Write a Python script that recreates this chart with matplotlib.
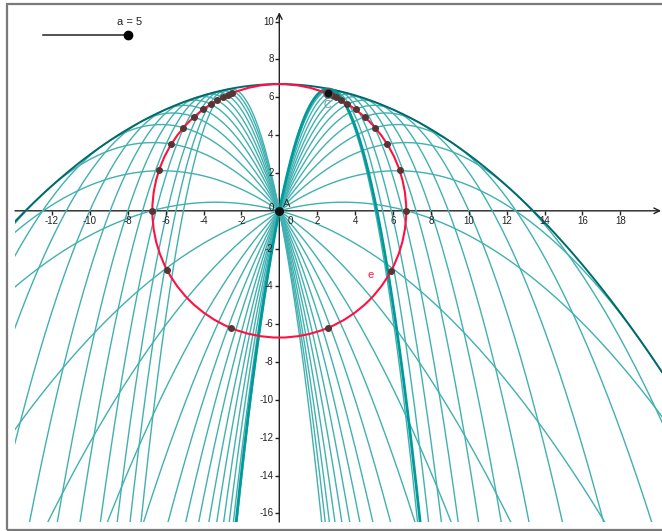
import numpy as np
import matplotlib.pyplot as plt
from matplotlib.patches import Circle, Rectangle

plt.rcParams['font.family'] = ['Liberation Sans', 'DejaVu Sans']
plt.rcParams['axes.unicode_minus'] = False

# maximum height of the throw (radius of the circle e)
h = 6.7
# slider value a, slope of the highlighted trajectory c
a = 5
# launch slopes of the trajectories (each drawn to the right and mirrored to the left)
slopes = [0.27, 0.68, 1.08, 1.46, 1.84, 2.23, 2.62, 3.02, 3.42, 3.86, 4.30, 4.70, 5.10]
# points on circle e, polar angle in degrees
dot_angles = [0, 18.6, 31.8, 40.8, 47.7, 53.1, 57.5, 61.0, 63.5, 65.5,
              180, 161.4, 148.2, 139.2, 132.3, 126.8, 122.7, 119.2, 116.5, 113.9, 111.7,
              208.0, 247.4, 331.8, 292.6]
point_C = (2.59, 6.21)

x_ticks = [-12, -10, -8, -6, -4, -2, 2, 4, 6, 8, 10, 12, 14, 16, 18]
y_ticks = [10, 8, 6, 4, 2, -2, -4, -6, -8, -10, -12, -14, -16]

teal = '#42b0b0'

fig = plt.figure(figsize=(6.62, 5.31), dpi=100)
ax = fig.add_axes([15 / 662, 9 / 531, 647 / 662, 517 / 531])
ax.set_xlim(-13.95, 20.2)
ax.set_ylim(-16.45, 10.88)
ax.axis('off')

x = np.linspace(-14.5, 20.5, 4000)
for m in slopes:
    for s in (1, -1):
        ax.plot(x, s * m * x - (1 + m * m) * x ** 2 / (4 * h), color=teal, lw=1.0, zorder=2)

# envelope (parabola of safety)
ax.plot(x, h - x ** 2 / (4 * h), color='#006a6a', lw=1.4, zorder=3)

# highlighted trajectory c
ax.plot(x, a * x - (1 + a * a) * x ** 2 / (4 * h), color='#009a9a', lw=2.0, zorder=3)

# circle e
ax.add_patch(Circle((0, 0), h, fill=False, ec='#ff1040', lw=1.5, zorder=4))
ang = np.radians(dot_angles)
ax.plot(h * np.cos(ang), h * np.sin(ang), 'o', color='#5a3434', ms=4.0, zorder=5)

# axes with arrows
ax.annotate('', xy=(20.15, 0), xytext=(-13.95, 0),
            arrowprops=dict(arrowstyle='->', lw=1.0, color='#222222', shrinkA=0, shrinkB=0), zorder=1)
ax.annotate('', xy=(0, 10.5), xytext=(0, -16.45),
            arrowprops=dict(arrowstyle='->', lw=1.0, color='#222222', shrinkA=0, shrinkB=0), zorder=1)
ax.plot(x_ticks, [0] * len(x_ticks), ls='', marker=3, ms=3, mew=1, color='#222222')
ax.plot([0] * len(y_ticks), y_ticks, ls='', marker=0, ms=3, mew=1, color='#222222')
for t in x_ticks:
    ax.text(t, -0.25, str(t), ha='center', va='top', fontsize=7, color='#222222', zorder=6)
for t in y_ticks:
    ax.text(-0.3, t, str(t), ha='right', va='center', fontsize=7, color='#222222', zorder=6)
ax.text(-0.3, 0.15, '0', ha='right', va='center', fontsize=7, color='#222222', zorder=6)
ax.text(0.45, -0.25, '0', ha='left', va='top', fontsize=7, color='#222222', zorder=6)

# points A and C, labels
ax.plot(0, 0, 'o', color='#111111', ms=5.5, zorder=7)
ax.text(0.2, 0.1, 'A', fontsize=8, color='#333333', ha='left', va='bottom', zorder=7)
ax.plot(*point_C, 'o', color='#111111', mec='#555555', ms=6.5, zorder=7)
ax.text(point_C[0] - 0.05, point_C[1] - 0.35, 'C', fontsize=7.5, color='#6a9090', ha='center', va='top', zorder=7)
ax.text(4.8, -3.4, 'e', fontsize=8, color='#ff1040', ha='center', va='center', zorder=7)

# slider a
fig.add_artist(plt.Line2D([43 / 662, 128 / 662], [1 - 35 / 531, 1 - 35 / 531], color='#222222', lw=1.1))
fig.add_artist(plt.Line2D([128 / 662], [1 - 35 / 531], marker='o', color='#000000', ms=6))
fig.text(130 / 662, 1 - 22 / 531, 'a = %d' % a, ha='center', va='center', fontsize=8, color='#222222')

# window frame
fig.add_artist(Rectangle((7 / 662, 1 / 531), 1.2, 526 / 531, transform=fig.transFigure,
                         fill=False, ec='#7a7a7a', lw=1.6))

fig.savefig('out.png', dpi=100, facecolor='white')
